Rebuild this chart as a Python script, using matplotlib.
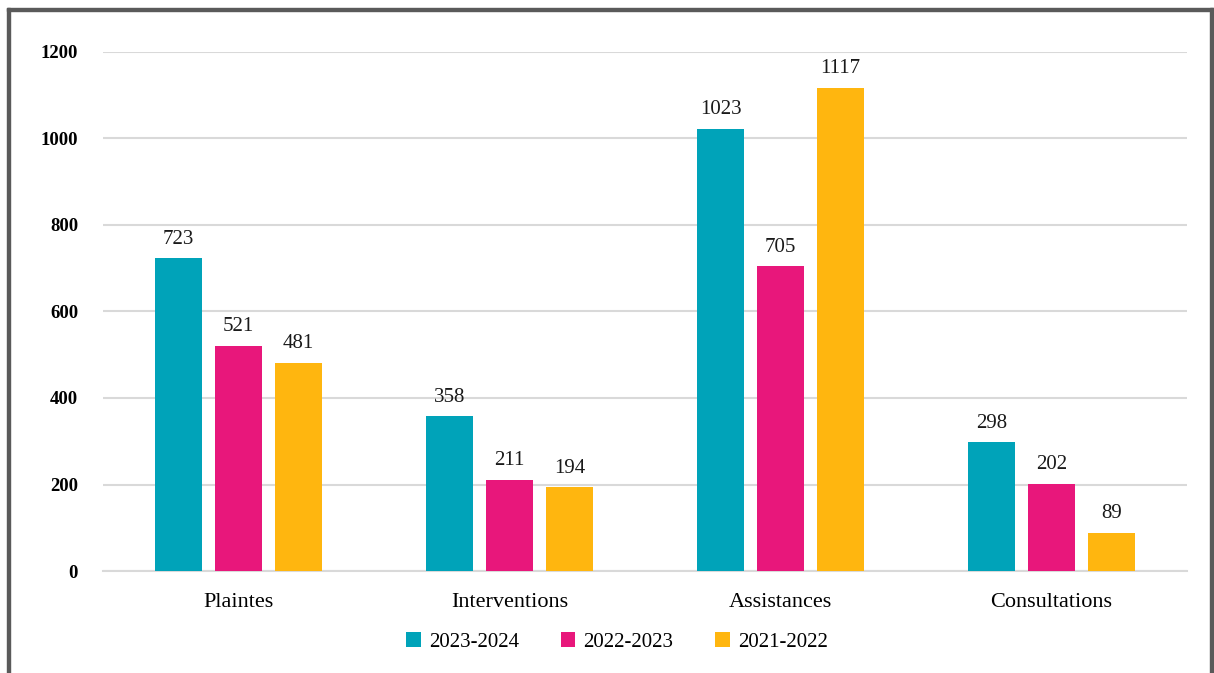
import numpy as np
import matplotlib.pyplot as plt
from matplotlib.patches import Rectangle

categories = ["Plaintes", "Interventions", "Assistances", "Consultations"]
seasons = ["2023-2024", "2022-2023", "2021-2022"]
v_2023_2024 = [723, 358, 1023, 298]
v_2022_2023 = [521, 211, 705, 202]
v_2021_2022 = [481, 194, 1117, 89]
colors = ["#00a3b9", "#e8177b", "#ffb60f"]

plt.rcParams['font.family'] = ['Liberation Serif', 'DejaVu Serif']

fig = plt.figure(figsize=(12.14, 6.73), dpi=100)
ax = fig.add_axes([103 / 1214, 1 - 571 / 673, 1084 / 1214, 519 / 673])

x = np.arange(len(categories))
width = 0.173
step = 0.2214
series = [v_2023_2024, v_2022_2023, v_2021_2022]
for i, (vals, col, lab) in enumerate(zip(series, colors, seasons)):
    pos = x + (i - 1) * step
    ax.bar(pos, vals, width, color=col, label=lab, zorder=3)
    for p, v in zip(pos, vals):
        ax.text(p, v + 22, str(v), ha='center', va='bottom', fontsize=15, color='#1a1a1a')

ax.set_xlim(-0.5, len(categories) - 0.5)
ax.set_ylim(0, 1200)
ax.set_yticks(range(0, 1201, 200))
ax.set_xticks(x)
ax.set_xticklabels(categories, fontsize=16)
ax.tick_params(axis='y', labelsize=13.5, length=0, pad=18)
ax.tick_params(axis='x', length=0, pad=16)
for lbl in ax.get_yticklabels():
    lbl.set_fontweight('bold')
ax.grid(axis='y', color='#d9d9d9', linewidth=1.5, zorder=0)
for s in ['top', 'right', 'left']:
    ax.spines[s].set_visible(False)
ax.spines['bottom'].set_color('#d9d9d9')
ax.spines['bottom'].set_linewidth(1.5)

ax.legend(loc='center', bbox_to_anchor=((617 - 103) / 1084, (1 - 642 / 673 - (1 - 571 / 673)) / (519 / 673)),
          ncol=3, frameon=False, fontsize=15, handlelength=0.7, handleheight=0.7,
          handletextpad=0.4, columnspacing=2.0)

# outer frame (open at the bottom)
frame_col = '#5a5a5a'
fig.patches.append(Rectangle((7 / 1214, 0), 3 / 1214, 1 - 8 / 673, transform=fig.transFigure,
                             color=frame_col, zorder=10))
fig.patches.append(Rectangle((7 / 1214, 1 - 11 / 673), 1207 / 1214, 3 / 673, transform=fig.transFigure,
                             color=frame_col, zorder=10))
fig.patches.append(Rectangle((1210 / 1214, 0), 3 / 1214, 1 - 8 / 673, transform=fig.transFigure,
                             color=frame_col, zorder=10))

fig.savefig("out.png", dpi=100)
